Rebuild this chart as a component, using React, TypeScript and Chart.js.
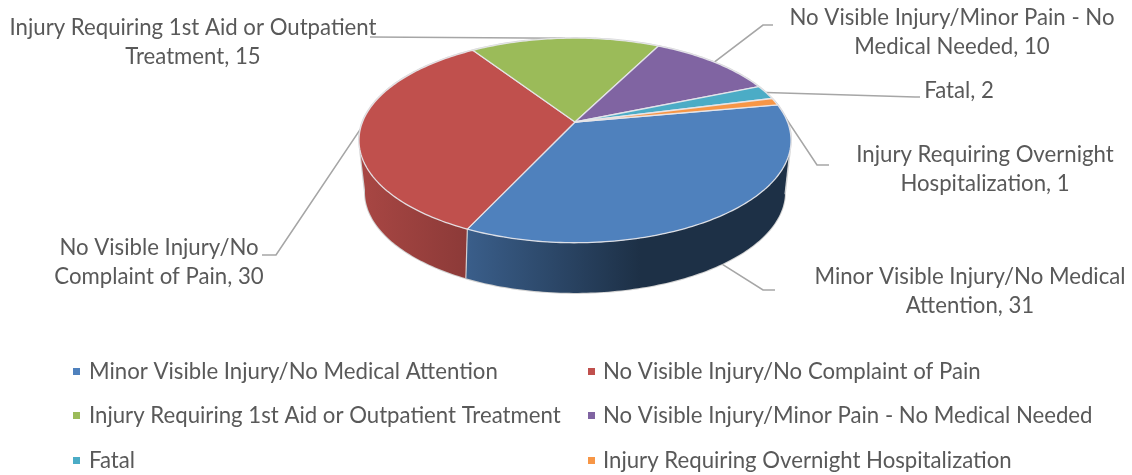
import React, { useEffect, useRef } from "react";
import { Chart, registerables } from "chart.js";

Chart.register(...registerables);

const categories = [
  "Minor Visible Injury/No Medical Attention",
  "No Visible Injury/No Complaint of Pain",
  "Injury Requiring 1st Aid or Outpatient Treatment",
  "No Visible Injury/Minor Pain - No Medical Needed",
  "Fatal",
  "Injury Requiring Overnight Hospitalization",
];
const counts = [31, 30, 15, 10, 2, 1];
const sliceColors = ["#4f81bd", "#c0504d", "#9bbb59", "#8064a2", "#4bacc6", "#f79646"];
const calloutLines = [
  ["Minor Visible Injury/No Medical", "Attention"],
  ["No Visible Injury/No", "Complaint of Pain"],
  ["Injury Requiring 1st Aid or Outpatient", "Treatment"],
  ["No Visible Injury/Minor Pain - No", "Medical Needed"],
  ["Fatal"],
  ["Injury Requiring Overnight", "Hospitalization"],
];

// Layout of the callouts: elbow of leader, end of leader, text centre x, first line y
const calloutLayout = [
  { elbow: [763, 290], end: [775, 290], tx: 970, ty: 277, fromWall: true },
  { elbow: [276, 255], end: [262, 255], tx: 159, ty: 248 },
  { elbow: [370, 37], end: [370, 37], tx: 193, ty: 28 },
  { elbow: [763, 25], end: [773, 25], tx: 952, ty: 18 },
  { elbow: [915, 97], end: [920, 97], tx: 959, ty: 91 },
  { elbow: [817, 165], end: [829, 165], tx: 985, ty: 155 },
];
const legendCols = [73, 588];
const legendRows = [372, 416, 461];

const FONT = "Lato, sans-serif";
const FONT_SIZE = 22.2;
const TEXT = "#595959";
const LINE = "#a6a6a6";

// perspective disc
const CX = 575;
const TOP = { cy: 122, rx: 212.5, ry: 99 };
const BOTTOM = { cy: 174, rx: 206.6, ry: 97.5 };
const K = 0.18;
const BOTTOM_SHIFT = (1.2 * Math.PI) / 180;

// a = canvas angle as given by the library's arc elements
function project(a: number, d: { cy: number; rx: number; ry: number }) {
  const x = Math.cos(a);
  const y = Math.sin(a);
  const w = 1 / (1 - K * y);
  return [CX + d.rx * x * w, d.cy + d.ry * y * w];
}

function shade(hex: string, f: number) {
  const n = parseInt(hex.slice(1), 16);
  return `rgb(${Math.round(((n >> 16) & 255) * f)},${Math.round(((n >> 8) & 255) * f)},${Math.round((n & 255) * f)})`;
}

const STEP = Math.PI / 180;
function rim(ctx: CanvasRenderingContext2D, a0: number, a1: number, d: any, shift = 0, start = false) {
  const n = Math.max(2, Math.ceil(Math.abs(a1 - a0) / STEP));
  for (let i = 0; i <= n; i++) {
    const a = a0 + ((a1 - a0) * i) / n;
    const p = project(a + shift, d);
    if (i === 0 && start) ctx.moveTo(p[0], p[1]);
    else ctx.lineTo(p[0], p[1]);
  }
}

const WALL_A0 = Math.asin(K);
const WALL_A1 = Math.PI - Math.asin(K);

const pie3d = {
  id: "pie3d",
  beforeDatasetDraw(chart: any) {
    const ctx: CanvasRenderingContext2D = chart.ctx;
    const arcs = chart.getDatasetMeta(0).data;
    const colors = chart.data.datasets[0].backgroundColor;
    const values = chart.data.datasets[0].data;
    const two = Math.PI * 2;

    ctx.save();
    // leaders
    ctx.strokeStyle = LINE;
    ctx.lineWidth = 1.6;
    arcs.forEach((arc: any, i: number) => {
      const mid = (arc.startAngle + arc.endAngle) / 2;
      const l = calloutLayout[i];
      const p = project(mid, l.fromWall ? BOTTOM : TOP);
      ctx.beginPath();
      ctx.moveTo(p[0], p[1]);
      ctx.lineTo(l.elbow[0], l.elbow[1]);
      ctx.lineTo(l.end[0], l.end[1]);
      ctx.stroke();
    });

    // outer soft outline
    ctx.beginPath();
    rim(ctx, WALL_A0, WALL_A1, BOTTOM, 0, true);
    rim(ctx, WALL_A1, WALL_A0 + two, TOP);
    ctx.closePath();
    ctx.strokeStyle = "rgba(190,190,190,0.7)";
    ctx.lineWidth = 2;
    ctx.stroke();

    // side wall
    arcs.forEach((arc: any, i: number) => {
      for (const off of [0, two, -two]) {
        const a0 = Math.max(arc.startAngle + off, WALL_A0);
        const a1 = Math.min(arc.endAngle + off, WALL_A1);
        if (a1 <= a0) continue;
        const g = ctx.createLinearGradient(365, 0, 790, 0);
        g.addColorStop(0, shade(colors[i], 0.87));
        g.addColorStop(0.242, shade(colors[i], 0.73));
        g.addColorStop(0.647, shade(colors[i], 0.37));
        g.addColorStop(1, shade(colors[i], 0.37));
        ctx.beginPath();
        rim(ctx, a0, a1, TOP, 0, true);
        rim(ctx, a1, a0, BOTTOM, BOTTOM_SHIFT);
        ctx.closePath();
        ctx.fillStyle = g;
        ctx.fill();
        ctx.strokeStyle = "rgba(225,225,225,0.85)";
        ctx.lineWidth = 1.2;
        ctx.beginPath();
        const t = project(a0, TOP);
        const b = project(a0 + BOTTOM_SHIFT, BOTTOM);
        ctx.moveTo(t[0], t[1]);
        ctx.lineTo(b[0], b[1]);
        ctx.stroke();
      }
    });

    // top surface
    arcs.forEach((arc: any, i: number) => {
      ctx.beginPath();
      ctx.moveTo(CX, TOP.cy);
      rim(ctx, arc.startAngle, arc.endAngle, TOP);
      ctx.closePath();
      ctx.fillStyle = colors[i];
      ctx.fill();
      ctx.strokeStyle = "rgba(232,232,236,0.9)";
      ctx.lineWidth = 1.3;
      ctx.lineJoin = "round";
      ctx.stroke();
    });

    // callout text
    ctx.fillStyle = TEXT;
    ctx.font = `${FONT_SIZE}px ${FONT}`;
    ctx.textAlign = "center";
    ctx.textBaseline = "middle";
    calloutLines.forEach((lines, i) => {
      const l = calloutLayout[i];
      lines.forEach((s, j) => {
        const txt = j === lines.length - 1 ? `${s}, ${values[i]}` : s;
        ctx.fillText(txt, l.tx, l.ty + j * 29);
      });
    });

    // legend
    ctx.textAlign = "left";
    chart.data.labels.forEach((label: string, i: number) => {
      const col = i % 2;
      const x = legendCols[col];
      const y = legendRows[Math.floor(i / 2)];
      ctx.fillStyle = colors[i];
      ctx.fillRect(x, y - 4, 7, 7);
      ctx.fillStyle = TEXT;
      ctx.fillText(label, x + (col ? 15 : 16), y);
    });
    ctx.restore();
    return false;
  },
};

export default function App() {
  const ref = useRef<HTMLCanvasElement>(null);
  useEffect(() => {
    document.body.style.margin = "0";
    const chart = new Chart(ref.current!, {
      type: "pie",
      data: {
        labels: categories,
        datasets: [{ data: counts, backgroundColor: sliceColors }],
      },
      options: {
        responsive: false,
        animation: false,
        rotation: 79.7,
        events: [],
        plugins: { legend: { display: false }, tooltip: { enabled: false } },
      },
      plugins: [pie3d],
    } as any);
    return () => chart.destroy();
  }, []);
  return <canvas ref={ref} width={1132} height={475} style={{ display: "block" }} />;
}
